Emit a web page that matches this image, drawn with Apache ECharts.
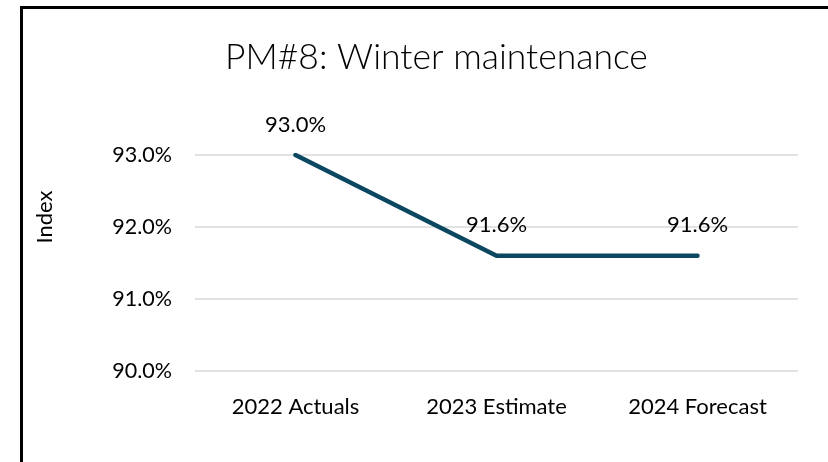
<!DOCTYPE html>
<html>
<head>
<meta charset="utf-8">
<script src="https://cdn.jsdelivr.net/npm/echarts@6/dist/echarts.min.js"></script>
<style>
  html, body { margin: 0; padding: 0; background: #fff; }
  #chart { width: 828px; height: 462px; }
</style>
</head>
<body>
<div id="chart"></div>
<script>
// chart data
const categories = ["2022 Actuals", "2023 Estimate", "2024 Forecast"]
const indexValues = [93.0, 91.6, 91.6]
const yMin = 90
const yMax = 93
const yStep = 1

const font = "Lato"

let myChart = echarts.init(document.getElementById("chart"))

let option = {
    backgroundColor: "#ffffff",
    animation: false,
    // outer frame around the chart
    graphic: [
        {
            type: "rect",
            shape: { x: 21.5, y: 7.5, width: 900, height: 600 },
            style: { fill: "none", stroke: "#000000", lineWidth: 3 }
        }
    ],
    title: {
        text: "PM#8: Winter maintenance",
        left: 220,
        top: 35,
        textStyle: { fontFamily: font, fontWeight: 300, fontSize: 35.5, color: "#000000" }
    },
    grid: { left: 195, right: 30, top: 155, bottom: 91 },
    xAxis: {
        type: "category",
        data: categories,
        axisLine: { show: false },
        axisTick: { show: false },
        axisLabel: { color: "#000000", fontFamily: font, fontSize: 22, margin: 25 }
    },
    yAxis: {
        type: "value",
        min: yMin,
        max: yMax,
        interval: yStep,
        name: "Index",
        nameLocation: "middle",
        nameGap: 139,
        nameRotate: 90,
        // push the axis title up, it sits above the middle of the axis
        nameTextStyle: { color: "#000000", fontFamily: font, fontSize: 22, padding: [0, 0, 0, 92] },
        axisLine: { show: false },
        axisTick: { show: false },
        splitLine: { lineStyle: { color: "#d9d9d9", width: 1.5 } },
        axisLabel: {
            color: "#000000", fontFamily: font, fontSize: 21.5, margin: 23,
            formatter: (v) => v.toFixed(1) + "%"
        }
    },
    series: [
        {
            type: "line",
            data: indexValues,
            symbol: "circle",
            symbolSize: 1,
            itemStyle: { color: "#0b4760" },
            lineStyle: { color: "#0b4760", width: 4.5, cap: "round", join: "round" },
            label: {
                show: true,
                position: "top",
                distance: 19,
                color: "#000000",
                fontFamily: font,
                fontSize: 22,
                formatter: (p) => p.value.toFixed(1) + "%"
            }
        }
    ]
}

myChart.setOption(option)
</script>
</body>
</html>
